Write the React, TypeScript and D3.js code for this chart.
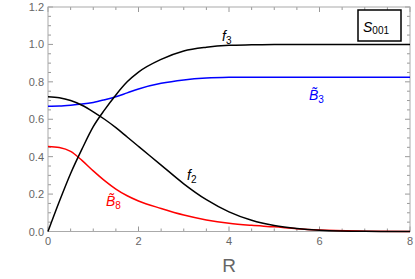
import React from 'react';
import * as d3 from 'd3';

const rValues = [0, 0.25, 0.5, 0.75, 1, 1.25, 1.5, 1.75, 2, 2.5, 3, 3.5, 4, 4.5, 5, 5.5, 6, 7, 8];
const f3Values = [0, 0.16, 0.31, 0.44, 0.56, 0.65, 0.73, 0.8, 0.852, 0.92, 0.965, 0.985, 0.995, 0.998, 1, 1, 1, 1, 1];
const f2Values = [0.72, 0.715, 0.7, 0.675, 0.64, 0.6, 0.555, 0.505, 0.455, 0.355, 0.255, 0.17, 0.105, 0.06, 0.032, 0.016, 0.007, 0.001, 0];
const b3Values = [0.67, 0.671, 0.675, 0.681, 0.69, 0.704, 0.72, 0.741, 0.762, 0.792, 0.81, 0.82, 0.824, 0.825, 0.825, 0.825, 0.825, 0.825, 0.825];
const b8Values = [0.455, 0.449, 0.428, 0.38, 0.324, 0.272, 0.227, 0.191, 0.163, 0.123, 0.088, 0.062, 0.044, 0.033, 0.025, 0.015, 0.008, 0.002, 0];

const xTicks = [0, 2, 4, 6, 8];
const yTicks = [0, 0.2, 0.4, 0.6, 0.8, 1.0, 1.2];

const width = 415;
const height = 279;
const margin = { top: 7, right: 5, bottom: 47.5, left: 48 };

const App: React.FC = () => {
  const x = d3.scaleLinear().domain([0, 8]).range([margin.left, width - margin.right]);
  const y = d3.scaleLinear().domain([0, 1.2]).range([height - margin.bottom, margin.top]);

  const line = (vals: number[]) =>
    d3.line<number>()
      .x((_, i) => x(rValues[i]))
      .y(d => y(d))
      .curve(d3.curveMonotoneX)(vals) as string;

  const xMinor = d3.range(0, 8.001, 0.5);
  const yMinor = d3.range(0, 1.2001, 0.05);
  const x0 = x(0), x1 = x(8), y0 = y(0), y1 = y(1.2);
  const tickColor = '#999';
  const font = '"Liberation Sans", Arial, sans-serif';

  return (
    <div style={{ position: 'absolute', left: 0, top: 0 }}>
      <svg width={width} height={height} style={{ display: 'block', fontFamily: font }}>
        {/* ticks, inside, on all four sides */}
        {xMinor.map(t => {
          const major = xTicks.includes(t);
          const len = major ? 5 : 3;
          return (
            <g key={'xm' + t} stroke={tickColor} strokeWidth={1}>
              <line x1={x(t)} x2={x(t)} y1={y0} y2={y0 - len} />
              <line x1={x(t)} x2={x(t)} y1={y1} y2={y1 + len} />
            </g>
          );
        })}
        {yMinor.map((t, i) => {
          const major = i % 4 === 0;
          const len = major ? 5 : 3;
          return (
            <g key={'ym' + i} stroke={tickColor} strokeWidth={1}>
              <line x1={x0} x2={x0 + len} y1={y(t)} y2={y(t)} />
              <line x1={x1} x2={x1 - len} y1={y(t)} y2={y(t)} />
            </g>
          );
        })}
        <rect x={x0} y={y1} width={x1 - x0} height={y0 - y1} fill="none" stroke="#aaa" strokeWidth={1} />

        {xTicks.map(t => (
          <text key={'xt' + t} x={x(t)} y={y0 + 13.5} textAnchor="middle" fontSize={11} fill="#666">{t}</text>
        ))}
        {yTicks.map(t => (
          <text key={'yt' + t} x={x0 - 4} y={y(t) + 4} textAnchor="end" fontSize={11} fill="#666">{t.toFixed(1)}</text>
        ))}
        <text x={(x0 + x1) / 2} y={272} textAnchor="middle" fontSize={19} fill="#666">R</text>

        <path d={line(b3Values)} fill="none" stroke="#0000ff" strokeWidth={1.5} />
        <path d={line(b8Values)} fill="none" stroke="#ff0000" strokeWidth={1.5} />
        <path d={line(f2Values)} fill="none" stroke="#000" strokeWidth={1.5} />
        <path d={line(f3Values)} fill="none" stroke="#000" strokeWidth={1.5} />

        <text x={222} y={41} fontSize={14} fontStyle="italic" fill="#000">f<tspan fontStyle="normal" fontSize={10} dy={3}>3</tspan></text>
        <text x={187} y={180} fontSize={14} fontStyle="italic" fill="#000">f<tspan fontStyle="normal" fontSize={10} dy={3}>2</tspan></text>
        <text x={309} y={100} fontSize={14} fontStyle="italic" fill="#0000ff">B̃<tspan fontStyle="normal" fontSize={10} dy={3}>3</tspan></text>
        <text x={106} y={206} fontSize={14} fontStyle="italic" fill="#ff0000">B̃<tspan fontStyle="normal" fontSize={10} dy={3}>8</tspan></text>

        <rect x={358} y={10} width={43} height={31} fill="#fff" stroke="#000" strokeWidth={1.5} />
        <text x={363} y={32} fontSize={14} fontStyle="italic" fill="#000">S<tspan fontStyle="normal" fontSize={10} dy={2}>001</tspan></text>
      </svg>
    </div>
  );
};

export default App;
